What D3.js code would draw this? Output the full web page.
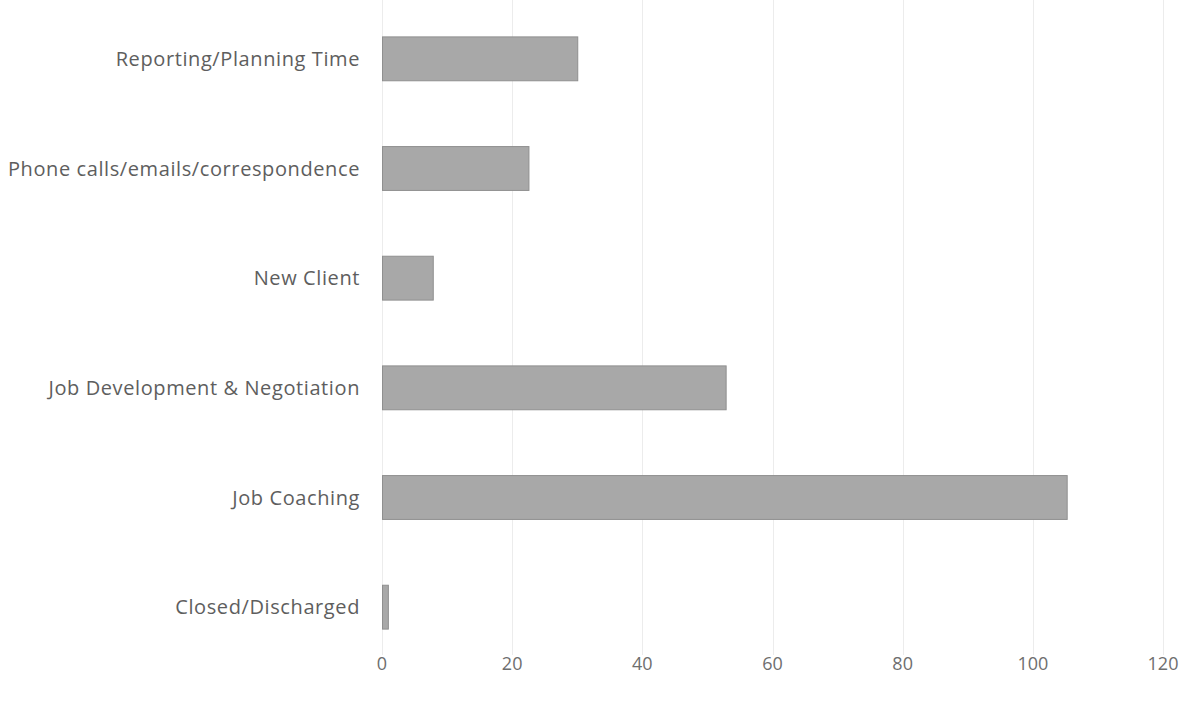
<!DOCTYPE html>
<html>
<head>
<meta charset="utf-8">
<script src="https://cdn.jsdelivr.net/npm/d3@7"></script>
<style>
  html, body { margin: 0; padding: 0; background: #ffffff; }
  svg { display: block; }
</style>
</head>
<body>
<svg id="chart" width="1195" height="719"></svg>
<script>
// Activity categories, top to bottom
const categories = [
  "Reporting/Planning Time",
  "Phone calls/emails/correspondence",
  "New Client",
  "Job Development & Negotiation",
  "Job Coaching",
  "Closed/Discharged"
];
// Hours per activity
const hours = [30.0, 22.5, 7.8, 52.8, 105.2, 0.9];
// Axis ticks
const xTicks = [0, 20, 40, 60, 80, 100, 120];

const svg = d3.select("#chart");
const plotLeft = 382, plotRight = 1163, plotTop = 4, plotBottom = 662;

const x = d3.scaleLinear().domain([0, 120]).range([plotLeft, plotRight]);
const y = d3.scaleBand().domain(categories).range([plotTop, plotBottom]).paddingInner(0.6).paddingOuter(0.3);

// Vertical gridlines
svg.append("g")
  .selectAll("line")
  .data(xTicks)
  .join("line")
  .attr("x1", d => Math.round(x(d)) + 0.5)
  .attr("x2", d => Math.round(x(d)) + 0.5)
  .attr("y1", 0)
  .attr("y2", 655)
  .attr("stroke", "#ececec")
  .attr("stroke-width", 1);

// Bars
svg.append("g")
  .selectAll("rect")
  .data(categories)
  .join("rect")
  .attr("x", x(0) + 0.5)
  .attr("y", d => y(d))
  .attr("width", (d, i) => x(hours[i]) - x(0))
  .attr("height", y.bandwidth())
  .attr("fill", "#a8a8a8")
  .attr("stroke", "#8f8f8f")
  .attr("stroke-width", 1);

// Category labels
svg.append("g")
  .selectAll("text")
  .data(categories)
  .join("text")
  .attr("x", 360)
  .attr("y", d => y(d) + y.bandwidth() / 2)
  .attr("dy", "0.35em")
  .attr("text-anchor", "end")
  .attr("font-family", "'Open Sans', sans-serif")
  .attr("font-size", 20)
  .attr("letter-spacing", 0.6)
  .attr("fill", "#5e5e5e")
  .text(d => d);

// X axis tick labels
svg.append("g")
  .selectAll("text")
  .data(xTicks)
  .join("text")
  .attr("x", d => x(d))
  .attr("y", 664)
  .attr("dy", "0.35em")
  .attr("text-anchor", "middle")
  .attr("font-family", "'Open Sans', sans-serif")
  .attr("font-size", 18)
  .attr("fill", "#6e6e6e")
  .text(d => d);
</script>
</body>
</html>
